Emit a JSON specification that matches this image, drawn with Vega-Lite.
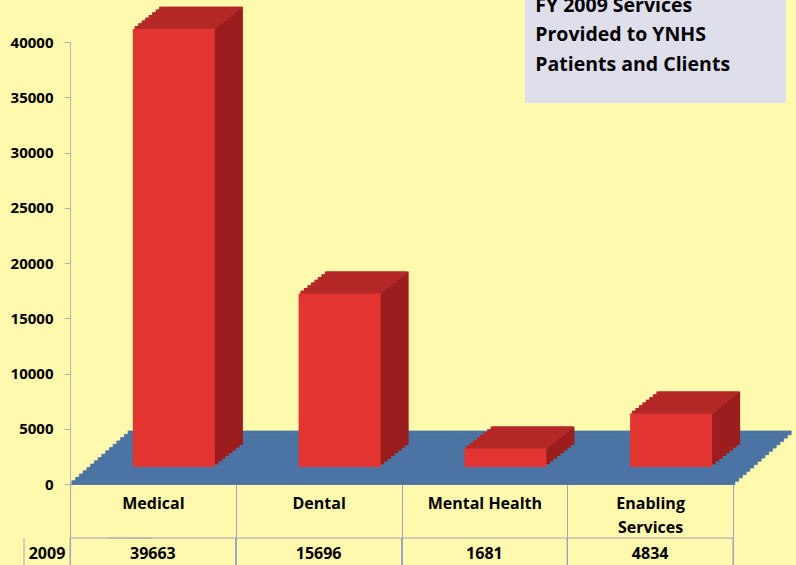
{
  "$schema": "https://vega.github.io/schema/vega-lite/v6.json",
  "width": 663,
  "height": 442,
  "autosize": {"type": "none"},
  "padding": {"left": 70, "top": 42, "right": 63, "bottom": 81},
  "background": "#FFF9AE",
  "config": {"view": {"stroke": null}, "font": "Open Sans"},
  "data": {"values": [
    {"category": "Medical", "value": 39663},
    {"category": "Dental", "value": 15696},
    {"category": "Mental Health", "value": 1681},
    {"category": "Enabling Services", "value": 4834}
  ]},
  "encoding": {
    "x": {"field": "category", "type": "nominal", "sort": null, "title": null,
      "scale": {"paddingInner": 0, "paddingOuter": 0},
      "axis": {"labelAngle": 0, "labelFont": "Open Sans", "labelFontSize": 16, "labelFontWeight": "bold", "labelColor": "#000000",
        "labelBaseline": "top", "labelLineHeight": 24, "labelPadding": -69.5,
        "labelExpr": "datum.label == 'Enabling Services' ? ['Enabling', 'Services'] : datum.label",
        "ticks": true, "tickBand": "extent", "tickSize": 81, "tickColor": "#A3A3BC", "domainColor": "#A3A3BC"}},
    "y": {"field": "value", "type": "quantitative", "title": null,
      "scale": {"domain": [0, 40000]},
      "axis": {"values": [0, 5000, 10000, 15000, 20000, 25000, 30000, 35000, 40000], "format": "d", "grid": false,
        "labelFont": "Open Sans", "labelFontSize": 15, "labelFontWeight": "bold", "labelColor": "#000000",
        "labelPadding": 11, "tickSize": 6, "tickColor": "#B5B5B5", "domainColor": "#B5B5B5"}}
  },
  "layer": [
    {"mark": {"type": "bar", "color": "#4C74A3", "stroke": "#4C74A3", "strokeWidth": 0.8, "xOffset": 1.88, "yOffset": -3.31, "y2Offset": 0.5}, "encoding": {"y": {"datum": 0, "type": "quantitative"}, "y2": {"datum": 0}}},
    {"mark": {"type": "bar", "color": "#4C74A3", "stroke": "#4C74A3", "strokeWidth": 0.8, "xOffset": 5.63, "yOffset": -6.63, "y2Offset": -2.81}, "encoding": {"y": {"datum": 0, "type": "quantitative"}, "y2": {"datum": 0}}},
    {"mark": {"type": "bar", "color": "#4C74A3", "stroke": "#4C74A3", "strokeWidth": 0.8, "xOffset": 9.38, "yOffset": -9.94, "y2Offset": -6.13}, "encoding": {"y": {"datum": 0, "type": "quantitative"}, "y2": {"datum": 0}}},
    {"mark": {"type": "bar", "color": "#4C74A3", "stroke": "#4C74A3", "strokeWidth": 0.8, "xOffset": 13.13, "yOffset": -13.25, "y2Offset": -9.44}, "encoding": {"y": {"datum": 0, "type": "quantitative"}, "y2": {"datum": 0}}},
    {"mark": {"type": "bar", "color": "#4C74A3", "stroke": "#4C74A3", "strokeWidth": 0.8, "xOffset": 16.88, "yOffset": -16.56, "y2Offset": -12.75}, "encoding": {"y": {"datum": 0, "type": "quantitative"}, "y2": {"datum": 0}}},
    {"mark": {"type": "bar", "color": "#4C74A3", "stroke": "#4C74A3", "strokeWidth": 0.8, "xOffset": 20.63, "yOffset": -19.88, "y2Offset": -16.06}, "encoding": {"y": {"datum": 0, "type": "quantitative"}, "y2": {"datum": 0}}},
    {"mark": {"type": "bar", "color": "#4C74A3", "stroke": "#4C74A3", "strokeWidth": 0.8, "xOffset": 24.38, "yOffset": -23.19, "y2Offset": -19.38}, "encoding": {"y": {"datum": 0, "type": "quantitative"}, "y2": {"datum": 0}}},
    {"mark": {"type": "bar", "color": "#4C74A3", "stroke": "#4C74A3", "strokeWidth": 0.8, "xOffset": 28.13, "yOffset": -26.5, "y2Offset": -22.69}, "encoding": {"y": {"datum": 0, "type": "quantitative"}, "y2": {"datum": 0}}},
    {"mark": {"type": "bar", "color": "#4C74A3", "stroke": "#4C74A3", "strokeWidth": 0.8, "xOffset": 31.88, "yOffset": -29.81, "y2Offset": -26}, "encoding": {"y": {"datum": 0, "type": "quantitative"}, "y2": {"datum": 0}}},
    {"mark": {"type": "bar", "color": "#4C74A3", "stroke": "#4C74A3", "strokeWidth": 0.8, "xOffset": 35.63, "yOffset": -33.13, "y2Offset": -29.31}, "encoding": {"y": {"datum": 0, "type": "quantitative"}, "y2": {"datum": 0}}},
    {"mark": {"type": "bar", "color": "#4C74A3", "stroke": "#4C74A3", "strokeWidth": 0.8, "xOffset": 39.38, "yOffset": -36.44, "y2Offset": -32.63}, "encoding": {"y": {"datum": 0, "type": "quantitative"}, "y2": {"datum": 0}}},
    {"mark": {"type": "bar", "color": "#4C74A3", "stroke": "#4C74A3", "strokeWidth": 0.8, "xOffset": 43.13, "yOffset": -39.75, "y2Offset": -35.94}, "encoding": {"y": {"datum": 0, "type": "quantitative"}, "y2": {"datum": 0}}},
    {"mark": {"type": "bar", "color": "#4C74A3", "stroke": "#4C74A3", "strokeWidth": 0.8, "xOffset": 46.88, "yOffset": -43.06, "y2Offset": -39.25}, "encoding": {"y": {"datum": 0, "type": "quantitative"}, "y2": {"datum": 0}}},
    {"mark": {"type": "bar", "color": "#4C74A3", "stroke": "#4C74A3", "strokeWidth": 0.8, "xOffset": 50.63, "yOffset": -46.38, "y2Offset": -42.56}, "encoding": {"y": {"datum": 0, "type": "quantitative"}, "y2": {"datum": 0}}},
    {"mark": {"type": "bar", "color": "#4C74A3", "stroke": "#4C74A3", "strokeWidth": 0.8, "xOffset": 54.38, "yOffset": -49.69, "y2Offset": -45.88}, "encoding": {"y": {"datum": 0, "type": "quantitative"}, "y2": {"datum": 0}}},
    {"mark": {"type": "bar", "color": "#4C74A3", "stroke": "#4C74A3", "strokeWidth": 0.8, "xOffset": 58.13, "yOffset": -53, "y2Offset": -49.19}, "encoding": {"y": {"datum": 0, "type": "quantitative"}, "y2": {"datum": 0}}},

    {"mark": {"type": "bar", "color": "#9B1D1D", "width": {"band": 0.495}, "xOffset": 24.5, "yOffset": -19.75, "y2Offset": -19.75}},
    {"mark": {"type": "bar", "color": "#9B1D1D", "width": {"band": 0.495}, "xOffset": 28, "yOffset": -22.5, "y2Offset": -22.5}},
    {"mark": {"type": "bar", "color": "#9B1D1D", "width": {"band": 0.495}, "xOffset": 31.5, "yOffset": -25.25, "y2Offset": -25.25}},
    {"mark": {"type": "bar", "color": "#9B1D1D", "width": {"band": 0.495}, "xOffset": 35, "yOffset": -28, "y2Offset": -28}},
    {"mark": {"type": "bar", "color": "#9B1D1D", "width": {"band": 0.495}, "xOffset": 38.5, "yOffset": -30.75, "y2Offset": -30.75}},
    {"mark": {"type": "bar", "color": "#9B1D1D", "width": {"band": 0.495}, "xOffset": 42, "yOffset": -33.5, "y2Offset": -33.5}},
    {"mark": {"type": "bar", "color": "#9B1D1D", "width": {"band": 0.495}, "xOffset": 45.5, "yOffset": -36.25, "y2Offset": -36.25}},
    {"mark": {"type": "bar", "color": "#9B1D1D", "width": {"band": 0.495}, "xOffset": 49, "yOffset": -39, "y2Offset": -39}},

    {"mark": {"type": "bar", "color": "#B42828", "width": {"band": 0.495}, "xOffset": 22.75, "yOffset": -19.75, "y2Offset": -16.5}, "encoding": {"y2": {"field": "value"}}},
    {"mark": {"type": "bar", "color": "#B42828", "width": {"band": 0.495}, "xOffset": 26.25, "yOffset": -22.5, "y2Offset": -19.25}, "encoding": {"y2": {"field": "value"}}},
    {"mark": {"type": "bar", "color": "#B42828", "width": {"band": 0.495}, "xOffset": 29.75, "yOffset": -25.25, "y2Offset": -22}, "encoding": {"y2": {"field": "value"}}},
    {"mark": {"type": "bar", "color": "#B42828", "width": {"band": 0.495}, "xOffset": 33.25, "yOffset": -28, "y2Offset": -24.75}, "encoding": {"y2": {"field": "value"}}},
    {"mark": {"type": "bar", "color": "#B42828", "width": {"band": 0.495}, "xOffset": 36.75, "yOffset": -30.75, "y2Offset": -27.5}, "encoding": {"y2": {"field": "value"}}},
    {"mark": {"type": "bar", "color": "#B42828", "width": {"band": 0.495}, "xOffset": 40.25, "yOffset": -33.5, "y2Offset": -30.25}, "encoding": {"y2": {"field": "value"}}},
    {"mark": {"type": "bar", "color": "#B42828", "width": {"band": 0.495}, "xOffset": 43.75, "yOffset": -36.25, "y2Offset": -33}, "encoding": {"y2": {"field": "value"}}},
    {"mark": {"type": "bar", "color": "#B42828", "width": {"band": 0.495}, "xOffset": 47.25, "yOffset": -39, "y2Offset": -35.75}, "encoding": {"y2": {"field": "value"}}},

    {"mark": {"type": "bar", "color": "#E23431", "width": {"band": 0.495}, "xOffset": 21, "yOffset": -17, "y2Offset": -17}},

    {"mark": {"type": "bar", "fillOpacity": 0, "stroke": "#A3A3BC", "strokeWidth": 1, "yOffset": 54, "y2Offset": 90},
     "encoding": {"y": {"datum": 0, "type": "quantitative"}, "y2": {"datum": 0}}},
    {"transform": [{"filter": "datum.category == 'Medical'"}],
     "mark": {"type": "rule", "color": "#A3A3BC", "strokeWidth": 1, "xOffset": -46, "yOffset": 54, "y2Offset": 90},
     "encoding": {"x": {"datum": "Medical", "bandPosition": 0}, "y": {"datum": 0, "type": "quantitative"}, "y2": {"datum": 0}}},
    {"transform": [{"filter": "datum.category == 'Medical'"}],
     "mark": {"type": "tick", "color": "#A3A3BC", "thickness": 1, "size": 46, "orient": "horizontal", "xOffset": -23, "yOffset": 54},
     "encoding": {"x": {"datum": "Medical", "bandPosition": 0}, "y": {"datum": 0, "type": "quantitative"}}},
    {"transform": [{"filter": "datum.category == 'Medical'"}],
     "mark": {"type": "text", "text": "2009", "font": "Open Sans", "fontSize": 16, "fontWeight": "bold", "color": "#000000", "baseline": "middle", "xOffset": -23, "yOffset": 70},
     "encoding": {"x": {"datum": "Medical", "bandPosition": 0}, "y": {"datum": 0, "type": "quantitative"}}},
    {"mark": {"type": "text", "font": "Open Sans", "fontSize": 16, "fontWeight": "bold", "color": "#000000", "baseline": "middle", "yOffset": 70},
     "encoding": {"y": {"datum": 0, "type": "quantitative"}, "text": {"field": "value", "type": "quantitative", "format": "d"}}},

    {"transform": [{"filter": "datum.category == 'Medical'"}],
     "mark": {"type": "bar", "color": "#DFDFEC", "width": 261, "xOffset": 5.4},
     "encoding": {"x": {"datum": "Enabling Services"}, "y": {"datum": 43800, "type": "quantitative"}, "y2": {"datum": 34480}}},
    {"transform": [{"filter": "datum.category == 'Medical'"}],
     "mark": {"type": "text", "text": ["FY 2009 Services", "Provided to YNHS", "Patients and Clients"], "font": "Open Sans", "fontSize": 19.5, "fontWeight": "bold", "color": "#000000", "align": "left", "baseline": "alphabetic", "lineHeight": 29.5, "xOffset": -32},
     "encoding": {"x": {"datum": "Enabling Services", "bandPosition": 0}, "y": {"datum": 42715, "type": "quantitative"}}}
  ]
}
